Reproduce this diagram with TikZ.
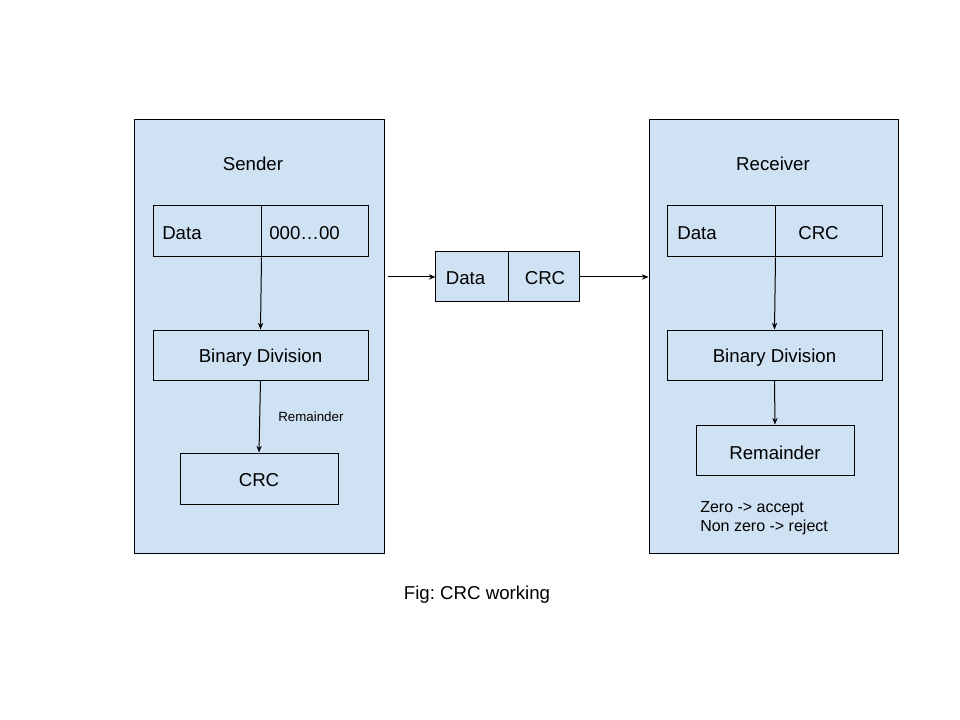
\documentclass[tikz,border=0pt]{standalone}
\usepackage{fontspec}
\setmainfont{Liberation Sans}
\usetikzlibrary{arrows.meta}
\definecolor{boxblue}{HTML}{CFE2F3}
\frenchspacing
\begin{document}
\begin{tikzpicture}[x=0.75pt,y=-0.75pt,
  panel/.style={draw=black,fill=boxblue,line width=0.75pt,inner sep=0pt},
  cell/.style={draw=black,fill=boxblue,line width=0.75pt,inner sep=0pt,minimum height=38.25pt},
  lbl/.style={inner sep=0pt,font=\fontsize{14}{16.8}\selectfont},
  small/.style={inner sep=0pt,font=\fontsize{10}{12}\selectfont},
  note/.style={inner sep=0pt,align=left,font=\fontsize{12}{14.25}\selectfont},
  arr/.style={line width=0.75pt,-{Stealth[length=5pt,width=4pt]}}]
\useasboundingbox (0,0) rectangle (960,720);
% panels
\node[panel,minimum width=187.5pt,minimum height=324.75pt] (sender) at (259,336.5) {};
\node[panel,minimum width=186.75pt,minimum height=324.75pt] (receiver) at (773.5,336.5) {};
\node[lbl] (stitle) at (253,163.5) {Sender};
\node[lbl] (rtitle) at (773,163.5) {Receiver};
% sender cells
\node[cell,minimum width=81pt] (sdl) at (207,231.5) {};
\node[cell,minimum width=80.25pt] (sdr) at (314.5,231.5) {};
\node[lbl,anchor=west] (sdlt) at (162,233.5) {Data};
\node[lbl,anchor=west] (sdrt) at (269,233.5) {000…00};
\node[cell,minimum width=161.25pt,minimum height=37.5pt] (sbin) at (260.5,355) {};
\node[lbl] (sbint) at (260.5,358) {Binary Division};
\node[cell,minimum width=118.5pt] (scrc) at (259,478.5) {};
\node[lbl] (scrct) at (259,480.5) {CRC};
\node[small,anchor=west] (srem) at (278,417) {Remainder};
\draw[arr] (sdl.south east) -- (sbin.north);
\draw[arr] (sbin.south) -- (scrc.north);
% packet
\node[cell,minimum width=54.4pt,minimum height=37.5pt] (pdl) at (472.25,277) {};
\node[cell,minimum width=53.6pt,minimum height=37.5pt] (pdr) at (544.25,277) {};
\node[lbl] (pdlt) at (465.5,278.5) {Data};
\node[lbl] (pdrt) at (545,278.5) {CRC};
\coordinate (pin) at (388,277);
\draw[arr] (pin) -- (pdl.west);
\draw[arr] (pdr.east) -- (receiver.west |- pdr.east);
% receiver cells
\node[cell,minimum width=81pt] (rdl) at (721,231.5) {};
\node[cell,minimum width=80.25pt] (rdr) at (828.5,231.5) {};
\node[lbl,anchor=west] (rdlt) at (677,233.5) {Data};
\node[lbl] (rdrt) at (818.5,233.5) {CRC};
\node[cell,minimum width=161.25pt,minimum height=37.5pt] (rbin) at (774.5,355) {};
\node[lbl] (rbint) at (774.5,358) {Binary Division};
\node[cell,minimum width=118.5pt,minimum height=37.5pt] (rrem) at (775,450) {};
\node[lbl] (rremt) at (775,452.5) {Remainder};
\node[note,anchor=north west] (rnote) at (700,501.5) {Zero -> accept\\Non zero -> reject};
\draw[arr] (rdl.south east) -- (rbin.north);
\draw[arr] (rbin.south) -- (rrem.north);
% caption
\node[lbl] (cap) at (477,595) {Fig: CRC working};
\end{tikzpicture}
\end{document}
